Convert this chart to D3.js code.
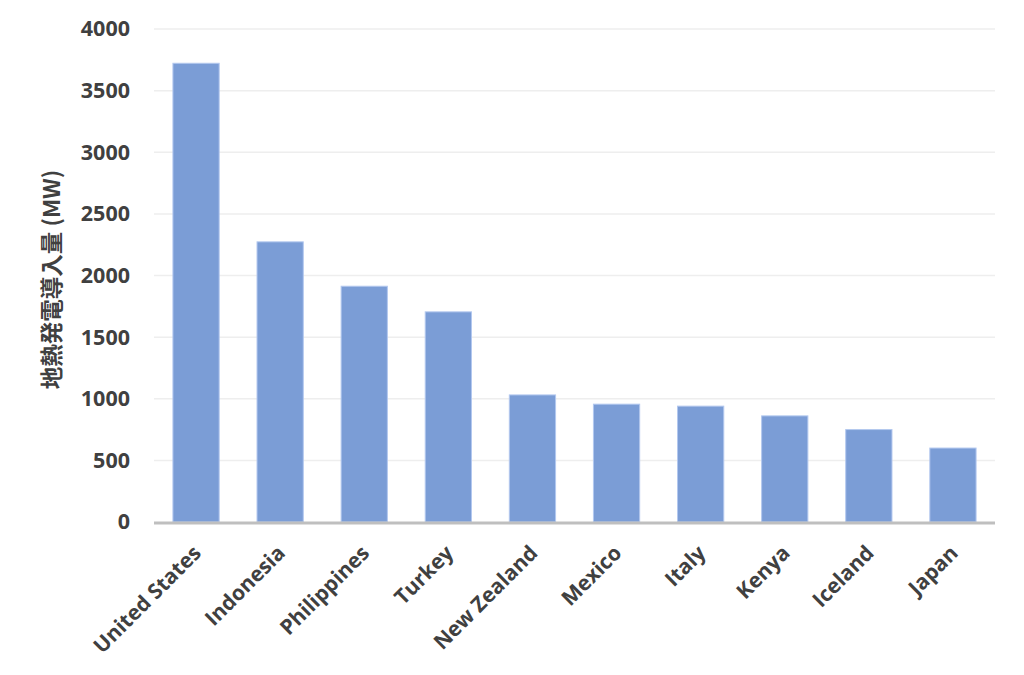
<!DOCTYPE html>
<html><head><meta charset="utf-8">
<script src="https://cdn.jsdelivr.net/npm/d3@7"></script>
<style>
body{margin:0;background:#fff;}
text{font-family:"Open Sans","Noto Sans CJK JP",sans-serif;}
</style></head>
<body><svg id="c" width="1024" height="675"></svg>
<script>
const countries = ["United States","Indonesia","Philippines","Turkey","New Zealand","Mexico","Italy","Kenya","Iceland","Japan"];
const capacityMW = [3722,2273,1913,1705,1031,956,940,861,750,600];
const yTicks = [0,500,1000,1500,2000,2500,3000,3500,4000];
const yTitle = "地熱発電導入量 (MW)";

const svg = d3.select("#c");
const m = {left:154, right:995, top:29, bottom:522};
const x = d3.scaleBand().domain(countries).range([m.left, m.right]).paddingInner(0.45).paddingOuter(0.225);
const y = d3.scaleLinear().domain([0,4000]).range([m.bottom, m.top]);

// gridlines
svg.append("g").selectAll("line").data(yTicks.filter(d=>d>0)).join("line")
  .attr("x1", m.left).attr("x2", m.right)
  .attr("y1", d=>y(d)).attr("y2", d=>y(d))
  .attr("stroke","#eeeeee").attr("stroke-width",1.5);

// bars
svg.append("g").selectAll("rect").data(countries).join("rect")
  .attr("x", d=>x(d)).attr("width", x.bandwidth())
  .attr("y", (d,i)=>y(capacityMW[i])).attr("height", (d,i)=>y(0)-y(capacityMW[i]))
  .attr("fill","#7b9dd6").attr("stroke","#b3c8ef").attr("stroke-width",1);

// y axis
const ya = svg.append("g").attr("transform",`translate(${m.left},0)`)
  .call(d3.axisLeft(y).tickValues(yTicks).tickFormat(d3.format("d")).tickSize(0).tickPadding(24));
ya.select(".domain").remove();
ya.selectAll("text").attr("font-size",21.5).attr("font-weight",700).attr("fill","#404040")
  .style("font-family","'Open Sans',sans-serif");

// x axis line
svg.append("line").attr("x1",m.left).attr("x2",m.right).attr("y1",y(0)+1).attr("y2",y(0)+1)
  .attr("stroke","#bfbfbf").attr("stroke-width",3);

// x labels
const xa = svg.append("g").attr("transform",`translate(0,${y(0)})`)
  .call(d3.axisBottom(x).tickSize(0));
xa.select(".domain").remove();
xa.selectAll("text")
  .attr("font-size",21).attr("font-weight",700).attr("fill","#404040")
  .style("font-family","'Open Sans',sans-serif")
  .attr("text-anchor","end")
  .attr("transform","translate(-4,22) rotate(-45)")
  .attr("dy","0.7em").attr("y",0).attr("x",0);

// y title
svg.append("text")
  .attr("transform",`translate(60,${(m.top+m.bottom)/2+4}) rotate(-90)`)
  .attr("text-anchor","middle")
  .attr("font-size",22.5).attr("font-weight",700).attr("fill","#404040")
  .style("font-family","'Noto Sans CJK JP','Open Sans',sans-serif")
  .text(yTitle);
</script></body></html>
